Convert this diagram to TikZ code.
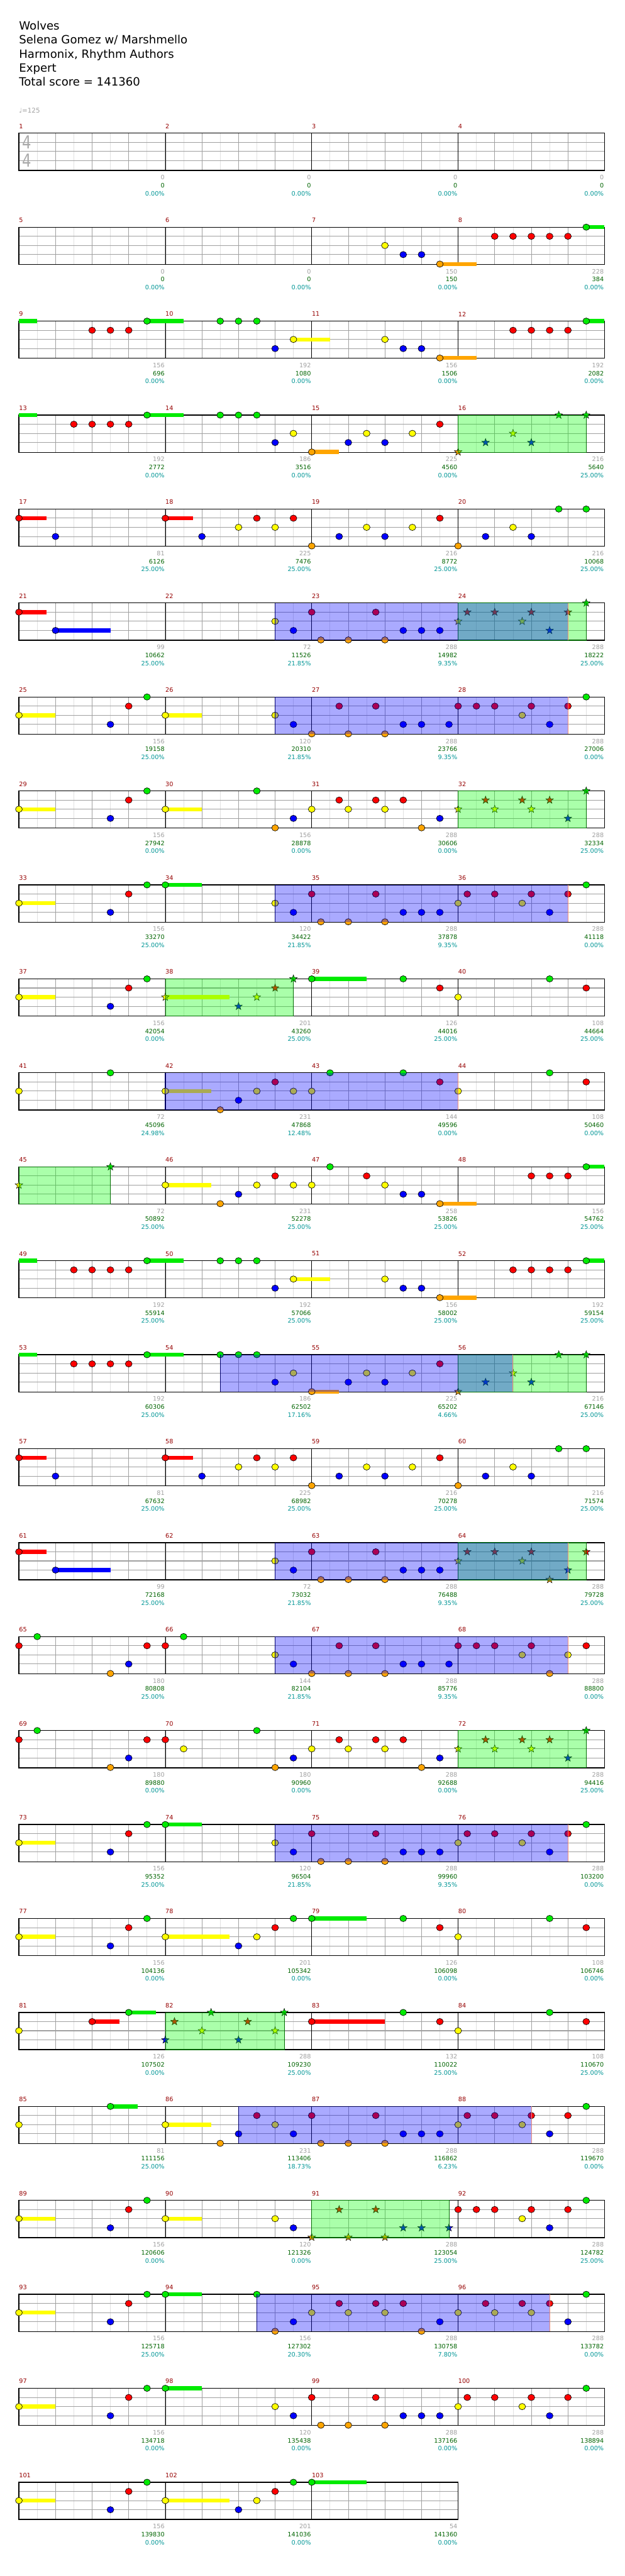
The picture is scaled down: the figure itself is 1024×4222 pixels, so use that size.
\documentclass[tikz,border=0pt]{standalone}
\usepackage{fontspec}
\setmainfont{DejaVu Sans}
\definecolor{cg}{RGB}{0,235,0}
\definecolor{cr}{RGB}{255,0,0}
\definecolor{cy}{RGB}{255,255,0}
\definecolor{cb}{RGB}{0,0,255}
\definecolor{co}{RGB}{255,165,0}
\definecolor{cmnum}{RGB}{150,0,0}
\definecolor{cgraytxt}{RGB}{160,160,160}
\definecolor{cgreentxt}{RGB}{0,100,0}
\definecolor{cpct}{RGB}{0,150,150}
\definecolor{clight}{RGB}{225,225,225}
\definecolor{cbeat}{RGB}{160,160,160}
\definecolor{cnavy}{RGB}{0,0,110}
\definecolor{csalmon}{RGB}{240,140,120}
\definecolor{cdkg}{RGB}{0,110,0}
\definecolor{cov}{RGB}{0,0,255}
\definecolor{csp}{RGB}{0,255,0}
\definecolor{ctsig}{RGB}{170,170,170}
\def\LNg{0}\def\LNr{15}\def\LNy{30}\def\LNb{45}\def\LNo{60.5}
\tikzset{
  numfont/.style={font=\fontsize{7.5}{9}\selectfont,inner sep=0pt},
  mnumst/.style={numfont,text=cmnum,anchor=west},
  ngray/.style={numfont,text=cgraytxt,anchor=east},
  ngreen/.style={numfont,text=cgreentxt,anchor=east},
  npct/.style={numfont,text=cpct,anchor=east},
  headst/.style={font=\fontsize{14}{16}\selectfont,inner sep=0pt,anchor=base west},
  tsig/.style={font=\fontsize{22}{22}\selectfont,text=ctsig,inner sep=0pt,xscale=0.8}
}
\newcommand\setrow[1]{\def\RK{#1}\pgfmathsetmacro\RY{218.3+154*#1}}
\newcommand\Grid[1]{%
  \pgfmathsetmacro\GW{240*#1}%
  \pgfmathtruncatemacro\NE{8*#1-1}%
  \pgfmathtruncatemacro\NB{4*#1-1}%
  \pgfmathtruncatemacro\NM{#1-1}%
  \foreach \i in {1,...,\NE}{\draw[clight,line width=0.6pt] ({31+30*\i},\RY) -- ++(0,61);}
  \foreach \i in {1,...,\NB}{\draw[cbeat,line width=0.7pt] ({31+60*\i},\RY) -- ++(0,61);}
  \foreach \l in {15,30,45}{\draw[cbeat,line width=0.8pt] (31,{\RY+\l}) -- ++(\GW,0);}
  \foreach \i in {1,...,\NM}{\draw[black,line width=0.6pt] ({31+240*\i},\RY) -- ++(0,61);}
  \draw[black,line width=1pt] (31,\RY) rectangle ++(\GW,61);
}
\newcommand\SU[3]{\fill[c#3] ({31+30*(#1)},{\RY+\csname LN#3\endcsname-3.3}) rectangle ({31+30*(#2)},{\RY+\csname LN#3\endcsname+3.3});}
\newcommand\NL[1]{\foreach \i/\l in {#1}{\filldraw[fill=c\l,draw=black,line width=0.5pt] ({31+30*\i},{\RY+\csname LN\l\endcsname}) ellipse (4.2pt and 3.9pt);}}
\newcommand\SL[1]{\foreach \i/\l in {#1}{\filldraw[fill=c\l,draw=black,line width=0.4pt,shift={({31+30*\i},{\RY+\csname LN\l\endcsname})}] (90:4.9pt) -- (126:2pt) -- (162:4.9pt) -- (198:2pt) -- (234:4.9pt) -- (270:2pt) -- (306:4.9pt) -- (342:2pt) -- (18:4.9pt) -- (54:2pt) -- cycle;}}
\newcommand\OV[2]{\fill[cov,fill opacity=0.333] ({31+30*(#1)},\RY) rectangle ({31+30*(#2)},{\RY+61});
  \draw[cnavy,line width=0.7pt] ({31+30*(#1)},\RY) -- ++(0,61);
  \draw[csalmon,line width=0.7pt] ({31+30*(#2)},\RY) -- ++(0,61);}
\newcommand\SP[2]{\fill[csp,fill opacity=0.333] ({31+30*(#1)},\RY) rectangle ({31+30*(#2)},{\RY+61});
  \draw[cdkg,line width=0.6pt] ({31+30*(#1)},\RY) rectangle ({31+30*(#2)},{\RY+61});}
\newcommand\Nums[1]{\foreach \j/\a/\b/\c in {#1}{%
  \pgfmathtruncatemacro\mn{4*\RK+\j+1}%
  \node[mnumst] (mn\mn) at ({31+240*\j},{\RY-11.5}) {\mn};
  \node[ngray] (sa\mn) at ({30+240*(\j+1)},{\RY+72.5}) {\a};
  \node[ngreen] (sb\mn) at ({30+240*(\j+1)},{\RY+85.7}) {\b};
  \node[npct] (sc\mn) at ({30+240*(\j+1)},{\RY+98.7}) {\c\%};
}}
\begin{document}
\begin{tikzpicture}[x=0.75pt,y=-0.75pt]
\useasboundingbox (0,0) rectangle (1024,4222);
\fill[white] (0,0) rectangle (1024,4222);
% header
\node[headst] (h1) at (31,49) {Wolves};
\node[headst] (h2) at (31,72) {Selena Gomez w/ Marshmello};
\node[headst] (h3) at (31,95) {Harmonix, Rhythm Authors};
\node[headst] (h4) at (31,118) {Expert};
\node[headst] (h5) at (31,141) {Total score = 141360};
\node[font=\fontsize{8}{9}\selectfont,text=cgraytxt,inner sep=0pt,anchor=west] (tempo) at (31,181) {♩=125};
% row 0
\setrow{0}\Grid{4}
\node[tsig] (ts1) at (44,{\RY+15}) {4};
\node[tsig] (ts2) at (44,{\RY+45}) {4};
\Nums{0/0/0/0.00,1/0/0/0.00,2/0/0/0.00,3/0/0/0.00}
% row 1
\setrow{1}\Grid{4}
\SU{23}{25}{o}\SU{31}{32}{g}
\NL{20/y,21/b,22/b,23/o,26/r,27/r,28/r,29/r,30/r,31/g}
\Nums{0/0/0/0.00,1/0/0/0.00,2/150/150/0.00,3/228/384/0.00}
% row 2
\setrow{2}\Grid{4}
\SU{0}{1}{g}\SU{7}{9}{g}\SU{15}{17}{y}\SU{23}{25}{o}\SU{31}{32}{g}
\NL{4/r,5/r,6/r,7/g,11/g,12/g,13/g,14/b,15/y,20/y,21/b,22/b,23/o,27/r,28/r,29/r,30/r,31/g}
\Nums{0/156/696/0.00,1/192/1080/0.00,2/156/1506/0.00,3/192/2082/0.00}
% row 3
\setrow{3}\Grid{4}
\SU{0}{1}{g}\SU{7}{9}{g}\SU{16}{17.5}{o}
\NL{3/r,4/r,5/r,6/r,7/g,11/g,12/g,13/g,14/b,15/y,16/o,18/b,19/y,20/b,21.5/y,23/r}
\SL{24/o,25.5/b,27/y,28/b,29.5/g,31/g}
\SP{24}{31}
\Nums{0/192/2772/0.00,1/186/3516/0.00,2/225/4560/0.00,3/216/5640/25.00}
% row 4
\setrow{4}\Grid{4}
\SU{0}{1.5}{r}\SU{8}{9.5}{r}
\NL{0/r,2/b,8/r,10/b,12/y,13/r,14/y,15/r,16/o,17.5/b,19/y,20/b,21.5/y,23/r,24/o,25.5/b,27/y,28/b,29.5/g,31/g}
\Nums{0/81/6126/25.00,1/225/7476/25.00,2/216/8772/25.00,3/216/10068/25.00}
% row 5
\setrow{5}\Grid{4}
\SU{0}{1.5}{r}\SU{2}{5}{b}
\NL{0/r,2/b,14/y,15/b,16/r,16.5/o,18/o,19.5/r,20/o,21/b,22/b,23/b}
\SL{24/y,24.5/r,26/r,27.5/y,28/r,29/b,30/r,31/g}
\SP{24}{31}\OV{14}{30}
\Nums{0/99/10662/25.00,1/72/11526/21.85,2/288/14982/9.35,3/288/18222/25.00}
% row 6
\setrow{6}\Grid{4}
\SU{0}{2}{y}\SU{8}{10}{y}
\NL{0/y,5/b,6/r,7/g,8/y,14/y,15/b,16/o,17.5/r,18/o,19.5/r,20/o,21/b,22/b,23.5/b,24/r,25/r,26/r,27.5/y,28/r,29/b,30/r,31/g}
\OV{14}{30}
\Nums{0/156/19158/25.00,1/120/20310/21.85,2/288/23766/9.35,3/288/27006/0.00}
% row 7
\setrow{7}\Grid{4}
\SU{0}{2}{y}\SU{8}{10}{y}
\NL{0/y,5/b,6/r,7/g,8/y,13/g,14/o,15/b,16/y,17.5/r,18/y,19.5/r,20/y,21/r,22/o,23/b}
\SL{24/y,25.5/r,26/y,27.5/r,28/y,29/r,30/b,31/g}
\SP{24}{31}
\Nums{0/156/27942/0.00,1/156/28878/0.00,2/288/30606/0.00,3/288/32334/25.00}
% row 8
\setrow{8}\Grid{4}
\SU{0}{2}{y}\SU{8}{10}{g}
\NL{0/y,5/b,6/r,7/g,8/g,14/y,15/b,16/r,16.5/o,18/o,19.5/r,20/o,21/b,22/b,23/b,24/y,24.5/r,26/r,27.5/y,28/r,29/b,30/r,31/g}
\OV{14}{30}
\Nums{0/156/33270/25.00,1/120/34422/21.85,2/288/37878/9.35,3/288/41118/0.00}
% row 9
\setrow{9}\Grid{4}
\SU{0}{2}{y}\SU{8}{11.5}{y}\SU{16}{19}{g}
\NL{0/y,5/b,6/r,7/g,16/g,21/g,23/r,24/y,29/g,31/r}
\SL{8/y,12/b,13/y,14/r,15/g}
\SP{8}{15}
\Nums{0/156/42054/0.00,1/201/43260/25.00,2/126/44016/25.00,3/108/44664/25.00}
% row 10
\setrow{10}\Grid{4}
\SU{8}{10.5}{y}
\NL{0/y,5/g,8/y,11/o,12/b,13/y,14/r,15/y,16/y,17/g,21/g,23/r,24/y,29/g,31/r}
\OV{8}{24}
\Nums{0/72/45096/24.98,1/231/47868/12.48,2/144/49596/0.00,3/108/50460/0.00}
% row 11
\setrow{11}\Grid{4}
\SU{8}{10.5}{y}\SU{23}{25}{o}\SU{31}{32}{g}
\NL{8/y,11/o,12/b,13/y,14/r,15/y,16/y,17/g,19/r,20/y,21/b,22/b,23/o,28/r,29/r,30/r,31/g}
\SL{0/y,5/g}
\SP{0}{5}
\Nums{0/72/50892/25.00,1/231/52278/25.00,2/258/53826/25.00,3/156/54762/25.00}
% row 12
\setrow{12}\Grid{4}
\SU{0}{1}{g}\SU{7}{9}{g}\SU{15}{17}{y}\SU{23}{25}{o}\SU{31}{32}{g}
\NL{3/r,4/r,5/r,6/r,7/g,11/g,12/g,13/g,14/b,15/y,20/y,21/b,22/b,23/o,27/r,28/r,29/r,30/r,31/g}
\Nums{0/192/55914/25.00,1/192/57066/25.00,2/156/58002/25.00,3/192/59154/25.00}
% row 13
\setrow{13}\Grid{4}
\SU{0}{1}{g}\SU{7}{9}{g}\SU{16}{17.5}{o}
\NL{3/r,4/r,5/r,6/r,7/g,11/g,12/g,13/g,14/b,15/y,16/o,18/b,19/y,20/b,21.5/y,23/r}
\SL{24/o,25.5/b,27/y,28/b,29.5/g,31/g}
\SP{24}{31}\OV{11}{27}
\Nums{0/192/60306/25.00,1/186/62502/17.16,2/225/65202/4.66,3/216/67146/25.00}
% row 14
\setrow{14}\Grid{4}
\SU{0}{1.5}{r}\SU{8}{9.5}{r}
\NL{0/r,2/b,8/r,10/b,12/y,13/r,14/y,15/r,16/o,17.5/b,19/y,20/b,21.5/y,23/r,24/o,25.5/b,27/y,28/b,29.5/g,31/g}
\Nums{0/81/67632/25.00,1/225/68982/25.00,2/216/70278/25.00,3/216/71574/25.00}
% row 15
\setrow{15}\Grid{4}
\SU{0}{1.5}{r}\SU{2}{5}{b}
\NL{0/r,2/b,14/y,15/b,16/r,16.5/o,18/o,19.5/r,20/o,21/b,22/b,23/b}
\SL{24/y,24.5/r,26/r,27.5/y,28/r,29/o,30/b,31/r}
\SP{24}{31}\OV{14}{30}
\Nums{0/99/72168/25.00,1/72/73032/21.85,2/288/76488/9.35,3/288/79728/25.00}
% row 16
\setrow{16}\Grid{4}
\NL{0/r,1/g,5/o,6/b,7/r,8/r,9/g,14/y,15/b,16/o,17.5/r,18/o,19.5/r,20/o,21/b,22/b,23.5/b,24/r,25/r,26/r,27.5/y,28/r,29/o,30/y,31/r}
\OV{14}{30}
\Nums{0/180/80808/25.00,1/144/82104/21.85,2/288/85776/9.35,3/288/88800/0.00}
% row 17
\setrow{17}\Grid{4}
\NL{0/r,1/g,5/o,6/b,7/r,8/r,9/y,13/g,14/o,15/b,16/y,17.5/r,18/y,19.5/r,20/y,21/r,22/o,23/b}
\SL{24/y,25.5/r,26/y,27.5/r,28/y,29/r,30/b,31/g}
\SP{24}{31}
\Nums{0/180/89880/0.00,1/180/90960/0.00,2/288/92688/0.00,3/288/94416/25.00}
% row 18
\setrow{18}\Grid{4}
\SU{0}{2}{y}\SU{8}{10}{g}
\NL{0/y,5/b,6/r,7/g,8/g,14/y,15/b,16/r,16.5/o,18/o,19.5/r,20/o,21/b,22/b,23/b,24/y,24.5/r,26/r,27.5/y,28/r,29/b,30/r,31/g}
\OV{14}{30}
\Nums{0/156/95352/25.00,1/120/96504/21.85,2/288/99960/9.35,3/288/103200/0.00}
% row 19
\setrow{19}\Grid{4}
\SU{0}{2}{y}\SU{8}{11.5}{y}\SU{16}{19}{g}
\NL{0/y,5/b,6/r,7/g,8/y,12/b,13/y,14/r,15/g,16/g,21/g,23/r,24/y,29/g,31/r}
\Nums{0/156/104136/0.00,1/201/105342/0.00,2/126/106098/0.00,3/108/106746/0.00}
% row 20
\setrow{20}\Grid{4}
\SU{4}{5.5}{r}\SU{6}{7.5}{g}\SU{16}{20}{r}
\NL{0/y,4/r,6/g,16/r,21/g,23/r,24/y,29/g,31/r}
\SL{8/b,8.5/r,10/y,10.5/g,12/b,12.5/r,14/y,14.5/g}
\SP{8}{14.5}
\Nums{0/126/107502/0.00,1/288/109230/25.00,2/132/110022/25.00,3/108/110670/25.00}
% row 21
\setrow{21}\Grid{4}
\SU{5}{6.5}{g}\SU{8}{10.5}{y}
\NL{0/y,5/g,8/y,11/o,12/b,13/r,14/y,15/b,16/r,16.5/o,18/o,19.5/r,20/o,21/b,22/b,23/b,24/y,24.5/r,26/r,27.5/y,28/r,29/b,30/r,31/g}
\OV{12}{28}
\Nums{0/81/111156/25.00,1/231/113406/18.73,2/288/116862/6.23,3/288/119670/0.00}
% row 22
\setrow{22}\Grid{4}
\SU{0}{2}{y}\SU{8}{10}{y}
\NL{0/y,5/b,6/r,7/g,8/y,14/y,15/b,24/r,25/r,26/r,27.5/y,28/r,29/b,30/r,31/g}
\SL{16/o,17.5/r,18/o,19.5/r,20/o,21/b,22/b,23.5/b}
\SP{16}{23.5}
\Nums{0/156/120606/0.00,1/120/121326/0.00,2/288/123054/25.00,3/288/124782/25.00}
% row 23
\setrow{23}\Grid{4}
\SU{0}{2}{y}\SU{8}{10}{g}
\NL{0/y,5/b,6/r,7/g,8/g,13/g,14/o,15/b,16/y,17.5/r,18/y,19.5/r,20/y,21/r,22/o,23/b,24/y,25.5/r,26/y,27.5/r,28/y,29/r,30/b,31/g}
\OV{13}{29}
\Nums{0/156/125718/25.00,1/156/127302/20.30,2/288/130758/7.80,3/288/133782/0.00}
% row 24
\setrow{24}\Grid{4}
\SU{0}{2}{y}\SU{8}{10}{g}
\NL{0/y,5/b,6/r,7/g,8/g,14/y,15/b,16/r,16.5/o,18/o,19.5/r,20/o,21/b,22/b,23/b,24/y,24.5/r,26/r,27.5/y,28/r,29/b,30/r,31/g}
\Nums{0/156/134718/0.00,1/120/135438/0.00,2/288/137166/0.00,3/288/138894/0.00}
% row 25
\setrow{25}\Grid{3}
\SU{0}{2}{y}\SU{8}{11.5}{y}\SU{16}{19}{g}
\NL{0/y,5/b,6/r,7/g,8/y,12/b,13/y,14/r,15/g,16/g}
\Nums{0/156/139830/0.00,1/201/141036/0.00,2/54/141360/0.00}
\end{tikzpicture}
\end{document}
